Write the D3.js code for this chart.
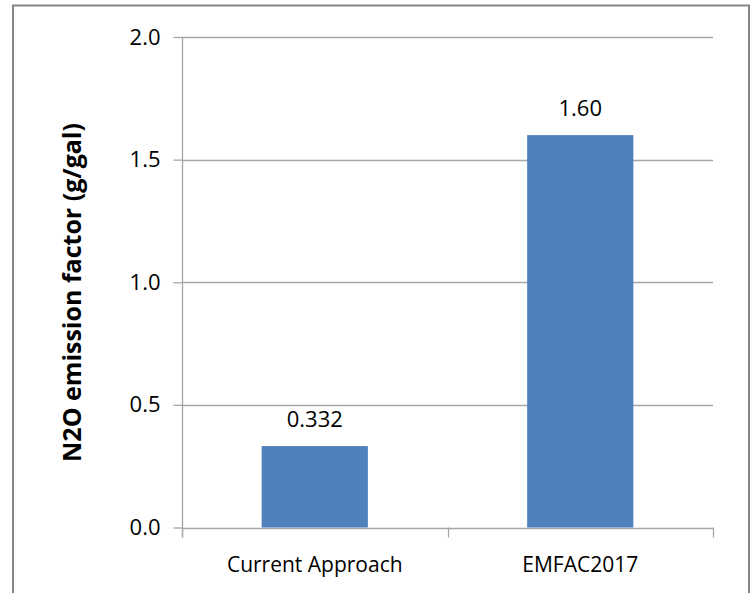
<!DOCTYPE html>
<html><head><meta charset="utf-8">
<script src="https://cdn.jsdelivr.net/npm/d3@7"></script>
<style>body{margin:0;background:#fff}svg{display:block}text{font-family:"Open Sans",sans-serif;fill:#000}</style>
</head><body><svg id="c" width="753" height="593"></svg>
<script>
const categories = ["Current Approach", "EMFAC2017"];
const values = [0.332, 1.60];
const valueLabels = ["0.332", "1.60"];
const yTicks = [0, 0.5, 1.0, 1.5, 2.0];
const yTitle = "N2O emission factor (g/gal)";

const svg = d3.select("#c");
svg.append("rect").attr("x",13).attr("y",5.5).attr("width",736).attr("height",600)
  .attr("fill","none").attr("stroke","#868686").attr("stroke-width",2);

const L=182, R=713, T=37, B=527.5;
const x = d3.scaleBand().domain(categories).range([L,R]).paddingInner(0.6).paddingOuter(0.3);
const y = d3.scaleLinear().domain([0,2]).range([B,T]);
const grey="#a6a6a6";

// gridlines
svg.append("g").selectAll("line").data(yTicks.filter(d=>d>0)).join("line")
  .attr("x1",L).attr("x2",R).attr("y1",d=>Math.round(y(d))+0.5).attr("y2",d=>Math.round(y(d))+0.5)
  .attr("stroke",grey).attr("stroke-width",1.3);

// y axis
const ya = svg.append("g").attr("transform",`translate(${L+0.5},0)`)
  .call(d3.axisLeft(y).tickValues(yTicks).tickFormat(d3.format(".1f")).tickSize(9).tickPadding(13));
ya.select(".domain").attr("stroke",grey).attr("stroke-width",1.3).attr("d",`M0,${T}V${B+10}`);
ya.selectAll(".tick line").attr("stroke",grey).attr("stroke-width",1.3);
ya.selectAll("text").style("font-family","'Open Sans',sans-serif").style("font-size","22px").attr("fill","#000");

// x axis
const xa = svg.append("g").attr("transform",`translate(0,${Math.round(B)+0.5})`)
  .call(d3.axisBottom(x).tickSize(0).tickPadding(29));
xa.select(".domain").attr("stroke",grey).attr("stroke-width",1.3).attr("d",`M${L},0H${R}`);
xa.selectAll(".tick text").style("font-family","'Open Sans',sans-serif").style("font-size","21px").attr("fill","#000");
const step = x.step();
svg.append("g").selectAll("line").data([L, (L+R)/2, R]).join("line")
  .attr("x1",d=>Math.round(d)+0.5).attr("x2",d=>Math.round(d)+0.5).attr("y1",B).attr("y2",B+10)
  .attr("stroke",grey).attr("stroke-width",1.3);

// bars
svg.append("g").selectAll("rect").data(values).join("rect")
  .attr("x",(d,i)=>x(categories[i])).attr("width",x.bandwidth())
  .attr("y",d=>y(d)).attr("height",d=>B-y(d)).attr("fill","#4f81bd");

// value labels
svg.append("g").selectAll("text").data(values).join("text")
  .attr("x",(d,i)=>x(categories[i])+x.bandwidth()/2).attr("y",d=>y(d)-19)
  .attr("text-anchor","middle").style("font-size","22px").text((d,i)=>valueLabels[i]);

// y title
svg.append("text").attr("transform",`translate(81,292.5) rotate(-90)`)
  .attr("text-anchor","middle").style("font-size","25px").style("font-weight","bold").text(yTitle);
</script></body></html>
